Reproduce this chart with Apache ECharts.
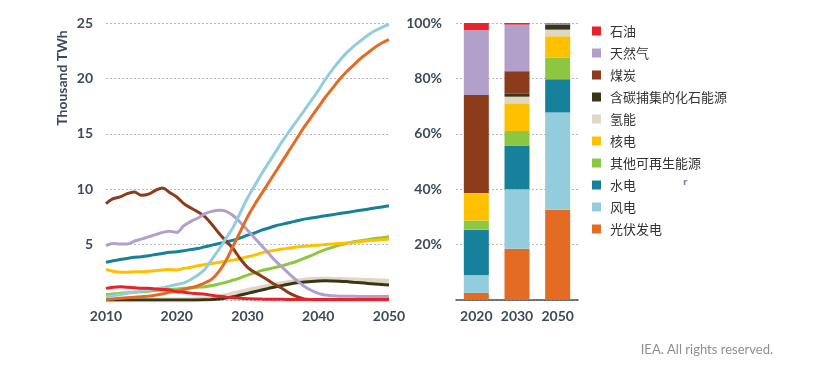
<!DOCTYPE html>
<html>
<head>
<meta charset="utf-8">
<script src="https://cdn.jsdelivr.net/npm/echarts@6/dist/echarts.min.js"></script>
<style>
html,body{margin:0;padding:0;background:#fff;}
#chart{width:813px;height:367px;}
</style>
</head>
<body>
<div id="chart"></div>
<script>
// ---------- data ----------
const years = [2010,2011,2012,2013,2014,2015,2016,2017,2018,2019,2020,2021,2022,2023,2024,2025,2026,2027,2028,2029,2030,2031,2032,2033,2034,2035,2036,2037,2038,2039,2040,2041,2042,2043,2044,2045,2046,2047,2048,2049,2050];

const oil      = [1.05,1.15,1.2,1.15,1.1,1.05,1.05,1.0,0.95,0.9,0.75,0.7,0.62,0.57,0.52,0.42,0.33,0.26,0.2,0.15,0.12,0.1,0.08,0.07,0.06,0.06,0.05,0.05,0.05,0.05,0.05,0.05,0.05,0.05,0.05,0.05,0.05,0.05,0.05,0.05,0.05];
const gas      = [4.9,5.1,5.05,5.05,5.3,5.5,5.7,5.9,6.1,6.2,6.1,6.7,7.1,7.4,7.8,8.0,8.1,8.0,7.6,7.0,6.3,5.6,4.9,4.2,3.5,2.9,2.3,1.75,1.25,0.88,0.6,0.45,0.38,0.34,0.33,0.33,0.32,0.32,0.32,0.32,0.32];
const coal     = [8.7,9.15,9.3,9.6,9.75,9.45,9.55,9.9,10.1,9.7,9.3,8.7,8.3,7.95,7.5,6.8,6.0,5.3,4.6,3.7,2.95,2.5,2.15,1.75,1.35,1.0,0.6,0.3,0.1,0.04,0.02,0.02,0.02,0.02,0.02,0.02,0.02,0.02,0.02,0.02,0.02];
const ccus     = [0,0,0,0,0,0,0,0,0,0,0,0,0,0,0.02,0.05,0.1,0.18,0.3,0.45,0.6,0.75,0.9,1.05,1.2,1.32,1.45,1.55,1.62,1.68,1.72,1.73,1.72,1.7,1.66,1.6,1.55,1.5,1.45,1.4,1.35];
const hydrogen = [0,0,0,0,0,0,0,0,0,0,0,0,0,0.05,0.1,0.18,0.28,0.4,0.55,0.7,0.85,1.0,1.12,1.25,1.38,1.5,1.6,1.7,1.78,1.84,1.88,1.88,1.86,1.84,1.82,1.8,1.78,1.76,1.74,1.72,1.7];
const nuclear  = [2.75,2.6,2.5,2.5,2.55,2.55,2.6,2.65,2.7,2.75,2.7,2.85,2.95,3.1,3.2,3.3,3.4,3.5,3.6,3.75,3.9,4.05,4.25,4.4,4.5,4.6,4.7,4.78,4.85,4.9,4.95,5.0,5.05,5.1,5.15,5.2,5.28,5.35,5.4,5.45,5.5];
const otherRen = [0.5,0.55,0.6,0.65,0.7,0.75,0.8,0.85,0.9,0.95,1.0,1.05,1.1,1.15,1.2,1.3,1.45,1.6,1.8,2.0,2.25,2.45,2.65,2.8,2.95,3.1,3.3,3.5,3.75,4.0,4.3,4.55,4.75,4.95,5.1,5.25,5.35,5.45,5.55,5.62,5.7];
const hydro    = [3.4,3.55,3.65,3.75,3.85,3.9,4.0,4.1,4.2,4.3,4.35,4.45,4.55,4.65,4.8,4.95,5.1,5.25,5.4,5.6,5.85,6.05,6.3,6.5,6.7,6.85,7.0,7.15,7.3,7.4,7.5,7.6,7.7,7.8,7.9,8.0,8.1,8.2,8.3,8.4,8.5];
const wind     = [0.3,0.4,0.5,0.6,0.7,0.8,0.9,1.0,1.1,1.25,1.4,1.55,1.85,2.25,2.8,3.7,4.6,5.6,6.6,7.9,9.2,10.3,11.4,12.4,13.4,14.4,15.3,16.2,17.1,18.0,18.9,19.9,20.8,21.6,22.3,22.9,23.4,23.9,24.3,24.6,24.9];
const solar    = [0.05,0.1,0.15,0.2,0.25,0.3,0.35,0.45,0.55,0.7,0.8,0.95,1.1,1.3,1.55,1.9,2.6,3.6,4.9,6.2,7.5,8.6,9.6,10.6,11.6,12.6,13.6,14.6,15.6,16.5,17.4,18.3,19.1,19.9,20.6,21.2,21.8,22.3,22.8,23.2,23.5];

const barYears = ['2020','2030','2050'];
const shareOil      = [2.6, 0.6, 0.2];
const shareGas      = [23.4, 16.8, 0.3];
const shareCoal     = [35.4, 8.0, 0];
const shareCcus     = [0, 1.2, 1.9];
const shareHydrogen = [0, 2.4, 2.4];
const shareNuclear  = [9.9, 10.0, 7.7];
const shareOtherRen = [3.3, 5.2, 7.8];
const shareHydro    = [16.5, 15.8, 12.0];
const shareWind     = [6.3, 21.5, 35.1];
const shareSolar    = [2.6, 18.5, 32.6];

const lineTicks = [5, 10, 15, 20, 25];
const shareTicks = [20, 40, 60, 80, 100];

// ---------- series meta (names/colours) ----------
const names = {
  oil:'石油', gas:'天然气', coal:'煤炭', ccus:'含碳捕集的化石能源', hydrogen:'氢能',
  nuclear:'核电', otherRen:'其他可再生能源', hydro:'水电', wind:'风电', solar:'光伏发电'
};
const colors = {
  oil:'#e8212b', gas:'#b2a0cb', coal:'#8c3b1b', ccus:'#3a3615', hydrogen:'#ddd7c3',
  nuclear:'#ffc000', otherRen:'#8dc640', hydro:'#17809a', wind:'#93cddd', solar:'#e36b24'
};
const lineData = {oil, gas, coal, ccus, hydrogen, nuclear, otherRen, hydro, wind, solar};
const shareData = {oil:shareOil, gas:shareGas, coal:shareCoal, ccus:shareCcus, hydrogen:shareHydrogen,
  nuclear:shareNuclear, otherRen:shareOtherRen, hydro:shareHydro, wind:shareWind, solar:shareSolar};

const lineOrder = ['hydrogen','ccus','otherRen','nuclear','hydro','coal','gas','solar','wind','oil'];
const barOrder = ['solar','wind','hydro','otherRen','nuclear','hydrogen','ccus','coal','gas','oil'];
const legendOrder = ['oil','gas','coal','ccus','hydrogen','nuclear','otherRen','hydro','wind','solar'];

const labelColor = '#3e4959';
const axisFont = 'Lato, "Open Sans", sans-serif';

const series = [];
lineOrder.forEach(k => {
  series.push({
    name: names[k], type:'line', xAxisIndex:0, yAxisIndex:0,
    data: years.map((y,i) => [y, lineData[k][i]]),
    showSymbol:false, smooth:0.35,
    lineStyle:{color:colors[k], width: k==='hydrogen' ? 5 : 3},
    itemStyle:{color:colors[k]},
    emphasis:{disabled:true}
  });
});
barOrder.forEach(k => {
  series.push({
    name: names[k], type:'bar', xAxisIndex:1, yAxisIndex:1, stack:'share',
    data: shareData[k], barWidth:25,
    itemStyle:{color:colors[k]},
    emphasis:{disabled:true}
  });
});

const chart = echarts.init(document.getElementById('chart'), null, {renderer:'canvas'});
chart.setOption({
  animation:false,
  backgroundColor:'#ffffff',
  grid:[
    {left:106, top:23, width:283, height:277},
    {left:456, top:23, width:122, height:277}
  ],
  xAxis:[
    {type:'value', gridIndex:0, min:2010, max:2050, interval:10,
     axisLine:{show:false}, axisTick:{show:false}, splitLine:{show:false},
     axisLabel:{color:labelColor, fontSize:14, fontWeight:'bold', fontFamily:axisFont, margin:9, formatter:v=>String(v)}},
    {type:'category', gridIndex:1, data:barYears,
     axisLine:{show:true, lineStyle:{color:'#4d4d4d', width:1.5}}, axisTick:{show:false},
     axisLabel:{color:labelColor, fontSize:14, fontWeight:'bold', fontFamily:axisFont, margin:9, interval:0, hideOverlap:false}}
  ],
  yAxis:[
    {type:'value', gridIndex:0, min:0, max:25, interval:5,
     axisLine:{show:false}, axisTick:{show:false},
     splitLine:{show:true, lineStyle:{color:'#b8b8b8', type:[2,2], width:1}},
     axisLabel:{color:labelColor, fontSize:14, fontWeight:'bold', fontFamily:axisFont, margin:13,
       formatter:v => lineTicks.indexOf(v) >= 0 ? String(v) : ''}},
    {type:'value', gridIndex:1, min:0, max:100, interval:20,
     axisLine:{show:false}, axisTick:{show:false},
     splitLine:{show:true, lineStyle:{color:'#b8b8b8', type:[2,2], width:1}},
     axisLabel:{color:labelColor, fontSize:14, fontWeight:'bold', fontFamily:axisFont, margin:14,
       formatter:v => shareTicks.indexOf(v) >= 0 ? v + '%' : ''}}
  ],
  legend:{
    orient:'vertical', left:592, top:24, padding:0, icon:'rect', itemWidth:9, itemHeight:9, itemGap:8,
    data: legendOrder.map(k => names[k]),
    textStyle:{color:'#333', fontSize:13, lineHeight:14, fontFamily:'"Noto Sans CJK SC", sans-serif', padding:[0,0,0,4]},
    selectedMode:false
  },
  graphic:[
    {type:'text', x:62, y:78, rotation:Math.PI/2,
     style:{text:'Thousand TWh', fill:labelColor, font:'bold 14px Lato, "Open Sans", sans-serif', textAlign:'center', textVerticalAlign:'middle'}},
    {type:'text', x:773, y:350,
     style:{text:'IEA. All rights reserved.', fill:'#8f8f8f', font:'13px Lato, "Open Sans", sans-serif', textAlign:'right', textVerticalAlign:'middle'}},
    {type:'text', x:683, y:178,
     style:{text:'r', fill:'#6f8cb5', font:'bold 9px "DejaVu Sans", sans-serif', textAlign:'left', textVerticalAlign:'top'}}
  ],
  series: series
});
</script>
</body>
</html>
